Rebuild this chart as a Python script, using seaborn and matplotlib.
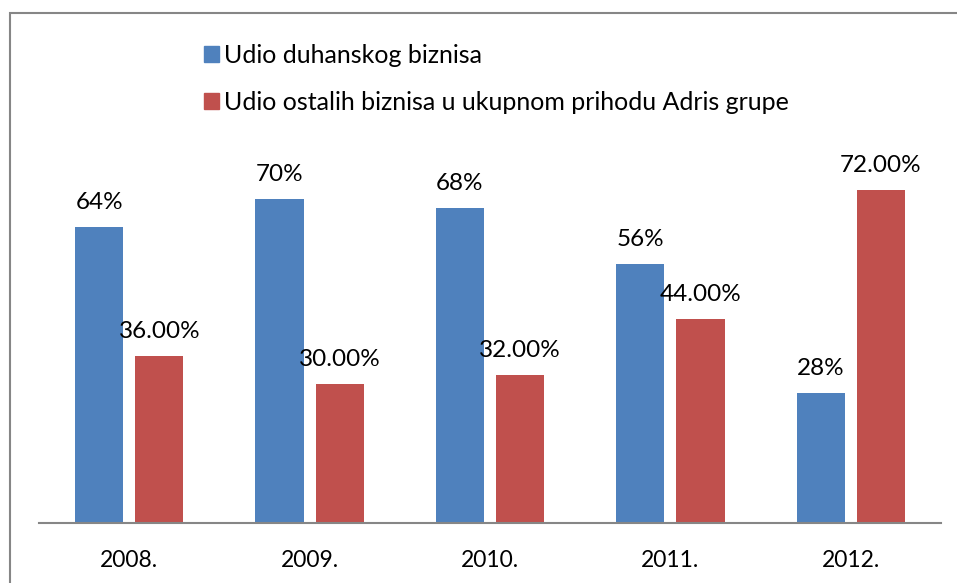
import numpy as np
import pandas as pd
import matplotlib.pyplot as plt
import seaborn as sns
from matplotlib.patches import Rectangle, Patch

# podaci
years = ['2008.', '2009.', '2010.', '2011.', '2012.']
tobacco = [64, 70, 68, 56, 28]
other = [36, 30, 32, 44, 72]
series = ['Udio duhanskog biznisa', 'Udio ostalih biznisa u ukupnom prihodu Adris grupe']

df = pd.DataFrame({
    'year': years * 2,
    'value': tobacco + other,
    'series': [series[0]] * len(years) + [series[1]] * len(years),
})

sns.set_style('white')
plt.rcParams['font.family'] = ['Lato', 'DejaVu Sans']

W, H = 957, 583
fig = plt.figure(figsize=(W / 100, H / 100), dpi=100)
ax = fig.add_axes([39 / W, (H - 522.7) / H, 902 / W, 370 / H])

colors = ['#4F81BD', '#C0504D']
sns.barplot(data=df, x='year', y='value', hue='series', palette=colors, saturation=1,
            width=0.667, gap=0.2, linewidth=0, legend=False, ax=ax)

ax.set_ylim(0, 80)
ax.set_xlim(-0.5, 4.5)
ax.set_xlabel('')
ax.set_ylabel('')
ax.set_yticks([])
for s in ['left', 'top', 'right']:
    ax.spines[s].set_visible(False)
ax.spines['bottom'].set_color('#868686')
ax.spines['bottom'].set_linewidth(1.5)
ax.tick_params(axis='x', length=0, pad=20, labelsize=16.5, labelcolor='black')

ax.bar_label(ax.containers[0], labels=[f'{v:.0f}%' for v in tobacco],
             padding=10, fontsize=17.5, color='black')
ax.bar_label(ax.containers[1], labels=[f'{v:.2f}%' for v in other],
             padding=10, fontsize=17.5, color='black')

handles = [Patch(color=c) for c in colors]
fig.legend(handles, series, loc='upper left', bbox_to_anchor=(204 / W, 1 - 44 / H),
           frameon=False, fontsize=18, labelcolor='black', handlelength=0.6, handleheight=0.6,
           handletextpad=0.2, labelspacing=0.95, borderpad=0, borderaxespad=0)

# okvir
fig.add_artist(Rectangle((9.5 / W, -0.1), 2, 1.1 - 13.5 / H, transform=fig.transFigure,
                         fill=False, edgecolor='#868686', linewidth=1.5))

fig.savefig('out.png', dpi=100)
